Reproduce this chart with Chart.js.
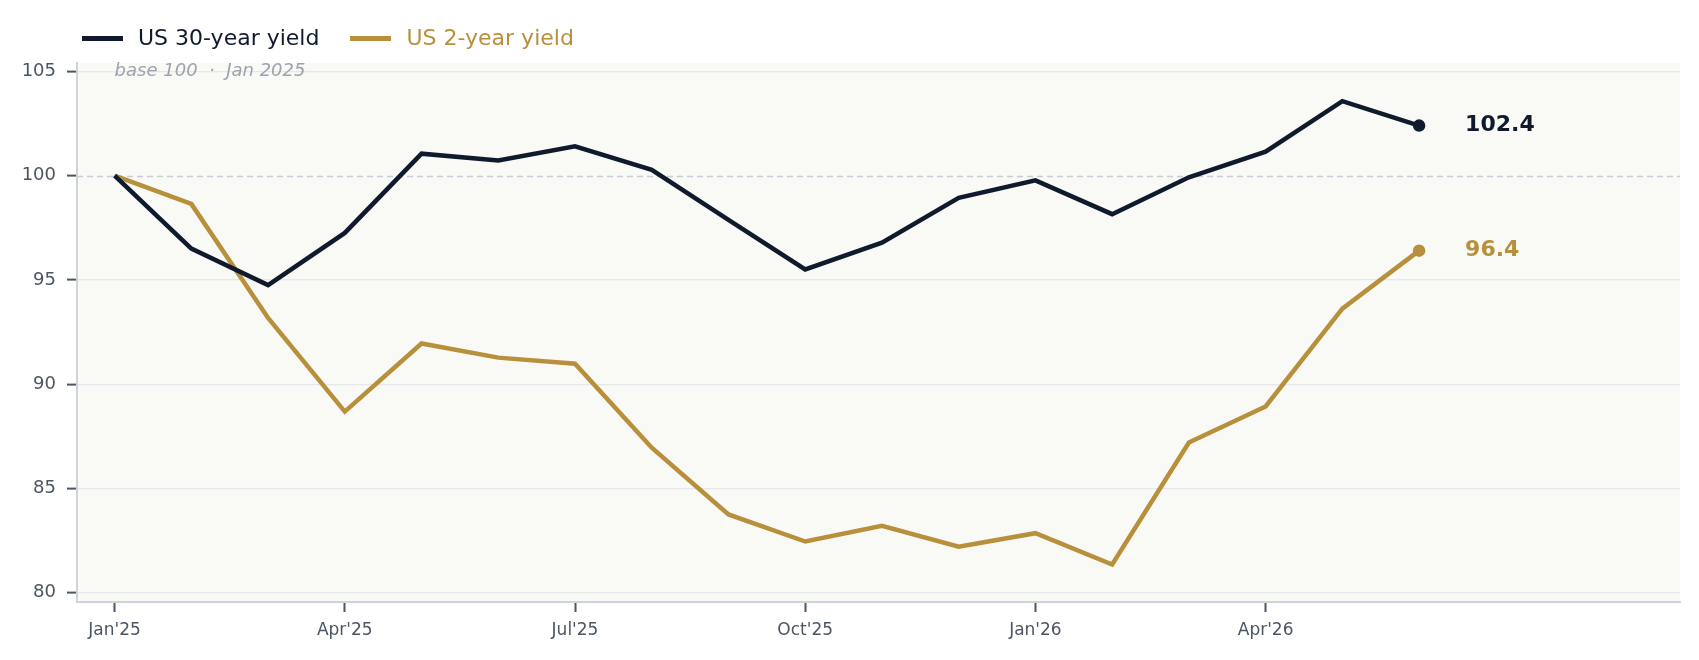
<!DOCTYPE html>
<html>
<head>
<meta charset="utf-8">
<script src="https://cdn.jsdelivr.net/npm/chart.js@4.4.1/dist/chart.umd.min.js"></script>
<style>
  html, body { margin: 0; padding: 0; background: #ffffff; }
  #wrap { position: relative; width: 1699px; height: 660px; font-family: 'DejaVu Sans', sans-serif; }
  #legend { position: absolute; left: 82px; top: 23px; display: flex; align-items: center; font-size: 22px; line-height: 30px; }
  .item { display: flex; align-items: center; margin-right: 31px; }
  .sw { width: 41px; height: 5px; margin-right: 15px; }
  canvas { position: absolute; left: 0; top: 0; }
</style>
</head>
<body>
<div id="wrap">
  <canvas id="c" width="1699" height="660"></canvas>
  <div id="legend"></div>
</div>
<script>
// ---- data ----
const months = ["Jan'25","Feb'25","Mar'25","Apr'25","May'25","Jun'25","Jul'25","Aug'25","Sep'25","Oct'25","Nov'25","Dec'25","Jan'26","Feb'26","Mar'26","Apr'26","May'26","Jun'26"];
const us30 = [100, 96.5, 94.75, 97.25, 101.05, 100.73, 101.4, 100.28, 97.88, 95.5, 96.78, 98.93, 99.77, 98.15, 99.92, 101.15, 103.57, 102.4];
const us2  = [100, 98.64, 93.17, 88.68, 91.95, 91.27, 90.98, 86.95, 83.75, 82.45, 83.2, 82.2, 82.85, 81.35, 87.2, 88.93, 93.62, 96.4];
const xTickLabels = ["Jan'25","Apr'25","Jul'25","Oct'25","Jan'26","Apr'26"];
const yTicks = [80, 85, 90, 95, 100, 105];
const seriesNames = ["US 30-year yield", "US 2-year yield"];
const seriesColors = ["#0f1b2d", "#b8903c"];
const note = "base 100  \u00b7  Jan 2025";

// ---- html legend ----
const legendEl = document.getElementById('legend');
seriesNames.forEach((n, i) => {
  const it = document.createElement('div');
  it.className = 'item';
  const sw = document.createElement('div');
  sw.className = 'sw';
  sw.style.background = seriesColors[i];
  const tx = document.createElement('span');
  tx.textContent = n;
  tx.style.color = seriesColors[i];
  it.appendChild(sw); it.appendChild(tx);
  legendEl.appendChild(it);
});

const FONT = "'DejaVu Sans', sans-serif";
const toPts = arr => arr.map((v, i) => ({ x: i, y: v }));
const lastIdx = months.length - 1;

const bgPlugin = {
  id: 'bg',
  beforeDraw(chart) {
    const { ctx, chartArea: a } = chart;
    ctx.save();
    ctx.fillStyle = '#f9f9f6';
    ctx.fillRect(a.left, a.top, a.right - a.left, a.bottom - a.top);
    ctx.restore();
  },
  beforeDatasetsDraw(chart) {
    const { ctx, chartArea: a, scales } = chart;
    const y = Math.round(scales.y.getPixelForValue(100)) + 0.5;
    ctx.save();
    ctx.strokeStyle = '#c9ccd5';
    ctx.lineWidth = 1.3;
    ctx.setLineDash([6, 4]);
    ctx.beginPath();
    ctx.moveTo(a.left, y);
    ctx.lineTo(a.right, y);
    ctx.stroke();
    ctx.setLineDash([]);
    // note
    ctx.fillStyle = '#9ca3af';
    ctx.font = "italic 18px " + FONT;
    ctx.textBaseline = 'middle';
    ctx.textAlign = 'left';
    ctx.fillText(note, scales.x.getPixelForValue(0), scales.y.getPixelForValue(105));
    ctx.restore();
  },
  afterDatasetsDraw(chart) {
    const { ctx } = chart;
    ctx.save();
    ctx.font = "bold 22px " + FONT;
    ctx.textBaseline = 'middle';
    ctx.textAlign = 'left';
    chart.data.datasets.forEach((ds, i) => {
      const el = chart.getDatasetMeta(i).data[lastIdx];
      ctx.fillStyle = ds.borderColor;
      ctx.fillText(ds.data[lastIdx].y.toFixed(1), el.x + 46, el.y);
    });
    ctx.restore();
  }
};

new Chart(document.getElementById('c'), {
  type: 'line',
  data: {
    datasets: [
      { label: seriesNames[0], data: toPts(us30), borderColor: seriesColors[0], backgroundColor: seriesColors[0] },
      { label: seriesNames[1], data: toPts(us2), borderColor: seriesColors[1], backgroundColor: seriesColors[1] }
    ]
  },
  options: {
    responsive: false,
    animation: false,
    devicePixelRatio: 1,
    layout: { padding: { top: 63, right: 19, left: 0, bottom: 0 } },
    elements: {
      line: { borderWidth: 4.5, tension: 0, borderJoinStyle: 'miter' },
      point: {
        radius: ctx => ctx.dataIndex === lastIdx ? 5.5 : 0,
        hoverRadius: 0,
        borderColor: '#ffffff',
        borderWidth: 1.5
      }
    },
    plugins: { legend: { display: false }, tooltip: { enabled: false } },
    scales: {
      x: {
        type: 'linear',
        min: -0.49,
        max: 20.4,
        afterBuildTicks: s => { s.ticks = xTickLabels.map(l => ({ value: months.indexOf(l) })); },
        afterFit: s => { s.height = 58; },
        ticks: {
          callback: v => months[v],
          color: '#4b5563',
          font: { family: FONT, size: 17 },
          padding: 8,
          maxRotation: 0,
          autoSkip: false
        },
        grid: { drawOnChartArea: false, tickLength: 10, tickColor: '#4b5563', tickWidth: 2 },
        border: { color: '#cfd4dc', width: 2 }
      },
      y: {
        min: 79.55,
        max: 105.4,
        afterBuildTicks: s => { s.ticks = yTicks.map(v => ({ value: v })); },
        afterFit: s => { s.width = 77; },
        ticks: {
          color: '#4b5563',
          font: { family: FONT, size: 18 },
          padding: 11
        },
        grid: {
          color: ctx => (ctx.tick && ctx.tick.value === 100) ? 'rgba(0,0,0,0)' : '#e6e7ea',
          lineWidth: 1.2,
          tickLength: 10,
          tickColor: '#4b5563',
          tickWidth: 2
        },
        border: { color: '#cfd4dc', width: 2 }
      }
    }
  },
  plugins: [bgPlugin]
});
</script>
</body>
</html>
